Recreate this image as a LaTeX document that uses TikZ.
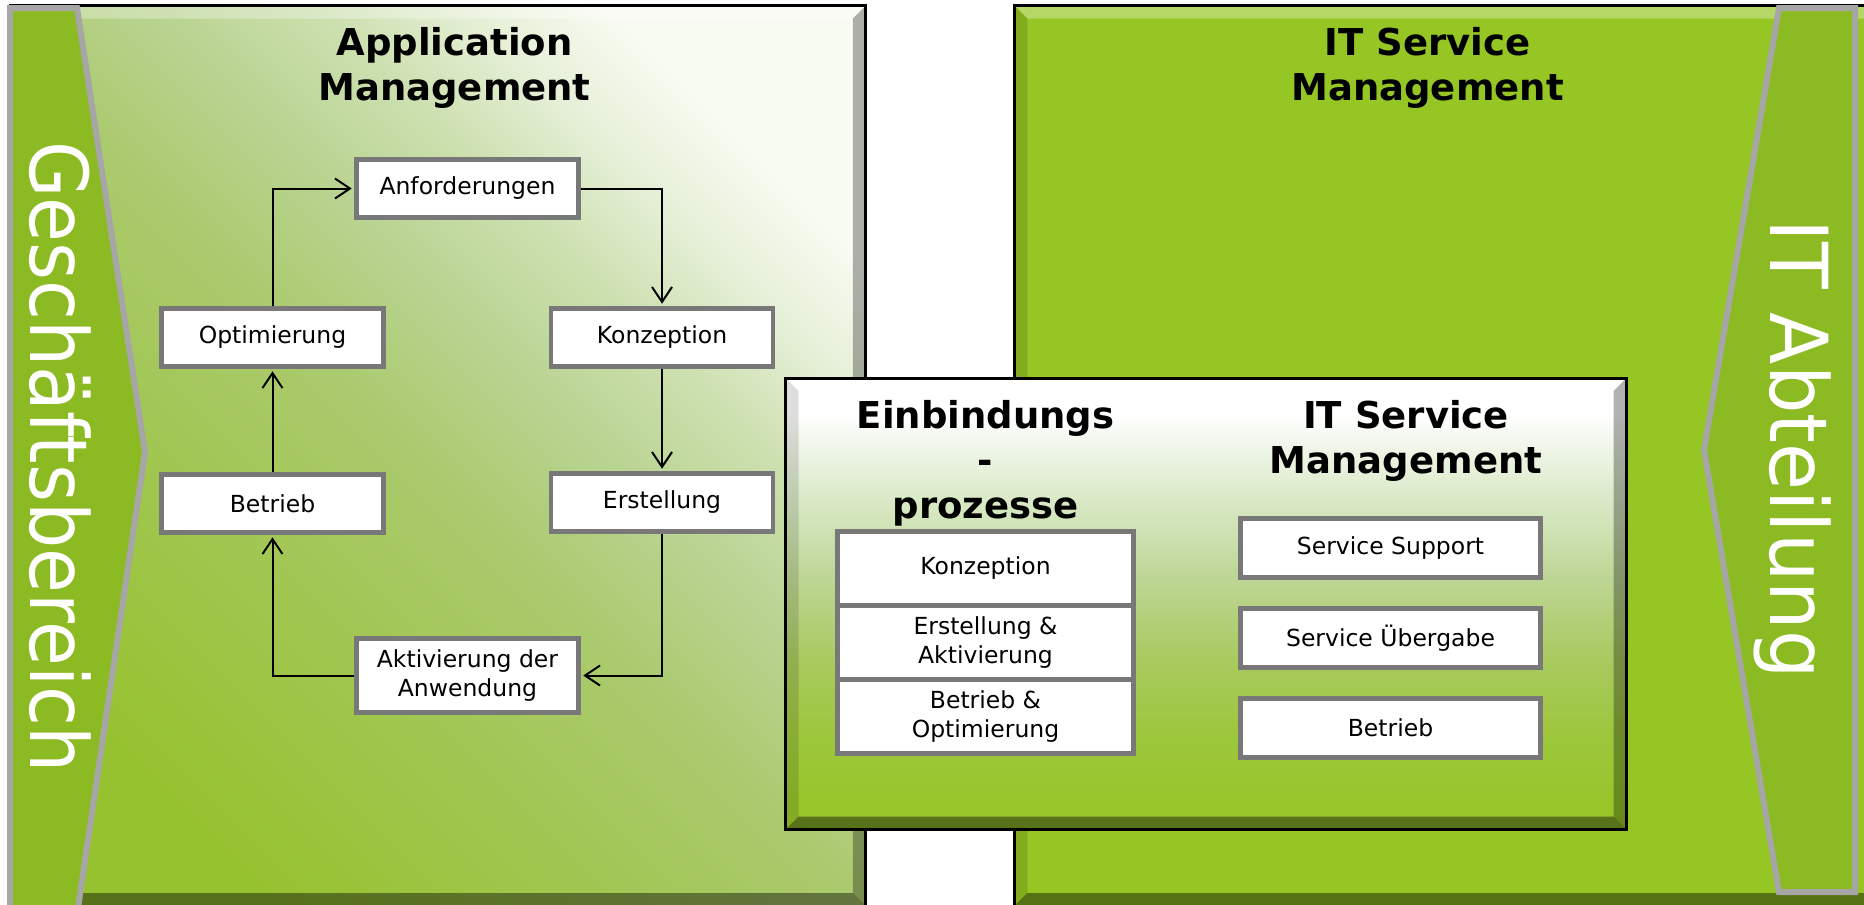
\documentclass[tikz,border=0pt]{standalone}
\usepackage{fontspec}
\setmainfont{DejaVu Sans}
\newfontfamily\bigfont[FakeStretch=0.91]{DejaVu Sans}
\newfontfamily\bigfontb[FakeStretch=0.955]{DejaVu Sans}
\usetikzlibrary{arrows.meta}

\definecolor{panelgreen}{HTML}{95C623}
\definecolor{chevgreen}{HTML}{8CBA22}
\definecolor{chevgray}{HTML}{A6A6A6}
\definecolor{boxgray}{HTML}{787878}
\definecolor{lp0}{HTML}{97C22F}
\definecolor{lp1}{HTML}{A1C650}
\definecolor{lp2}{HTML}{ABCA6E}
\definecolor{lp3}{HTML}{BAD493}
\definecolor{lp4}{HTML}{CDE0B0}
\definecolor{lp5}{HTML}{E6F0D8}
\definecolor{lp6}{HTML}{F8FBF2}
\definecolor{inA}{HTML}{97C52A}
\definecolor{inB}{HTML}{9EC73E}
\definecolor{inC}{HTML}{A9CA60}
\definecolor{inD}{HTML}{BED695}
\definecolor{inE}{HTML}{D8E8C4}
\definecolor{inF}{HTML}{EEF5E6}

\pgfdeclareverticalshading{innershade}{100bp}{color(0bp)=(inA); color(28bp)=(inA); color(36bp)=(inB); color(44bp)=(inC); color(53bp)=(inD); color(61bp)=(inE); color(67bp)=(inF); color(71bp)=(white); color(100bp)=(white)}
\pgfdeclareverticalshading{lpshade}{100bp}{color(0bp)=(lp0); color(25bp)=(lp0); color(38bp)=(lp1); color(49bp)=(lp2); color(57bp)=(lp3); color(63.5bp)=(lp4); color(69.5bp)=(lp5); color(75bp)=(lp6); color(100bp)=(lp6)}

% bevel: x1 y1 x2 y2 b   (pixel coordinates, y downwards)
\newcommand\mybevel[5]{%
  \fill[white,opacity=.3] (#1,#2) -- (#3,#2) -- (#3-#5,#2+#5) -- (#1+#5,#2+#5) -- cycle;
  \fill[black,opacity=.13] (#1,#2) -- (#1+#5,#2+#5) -- (#1+#5,#4-#5) -- (#1,#4) -- cycle;
  \fill[black,opacity=.3] (#3,#2) -- (#3-#5,#2+#5) -- (#3-#5,#4-#5) -- (#3,#4) -- cycle;
  \fill[black,opacity=.42] (#1,#4) -- (#1+#5,#4-#5) -- (#3-#5,#4-#5) -- (#3,#4) -- cycle;
}

\tikzset{
  procbox/.style={draw=boxgray, line width=4.5pt, fill=white, minimum width=222pt,
    minimum height=58pt, inner sep=0pt, align=center, font=\fontsize{23.5}{29}\selectfont},
  flow/.style={draw=black, line width=2pt, shorten >=2.5pt,
    -{Straight Barb[length=15pt,width=20pt,line width=2pt]}},
  headtext/.style={font=\fontsize{37}{45}\selectfont\bfseries, align=center, inner sep=0pt},
  biglabel/.style={text=white, rotate=-90, anchor=base, inner sep=0pt},
  chevron/.style={fill=chevgreen, draw=chevgray, line width=6pt},
}

\begin{document}
\begin{tikzpicture}[x=1pt,y=-1pt]
\useasboundingbox (0,0) rectangle (1864,905);

% left panel
\shade[shading=lpshade, shading angle=-45] (10,5.5) rectangle (865.8,906);
\mybevel{10}{5.5}{865.8}{906}{13}
\draw[black, line width=3pt] (10,915) -- (10,5.5) -- (865.8,5.5) -- (865.8,915);

% right panel
\fill[panelgreen] (1014.3,5.5) rectangle (1880,906);
\mybevel{1014.3}{5.5}{1880}{906}{13}
\draw[black, line width=3pt] (1014.3,915) -- (1014.3,5.5) -- (1880,5.5);

% chevrons
\filldraw[chevron] (10,8) -- (77,8) -- (145,452) -- (77,915) -- (10,915) -- cycle;
\filldraw[chevron] (1779,8) -- (1855,8) -- (1855,892) -- (1779,892) -- (1704,450) -- cycle;

\node[biglabel, font=\bigfont\fontsize{80}{90}\selectfont] (gb) at (30,457) {Geschäftsbereich};
\node[biglabel, font=\bigfontb\fontsize{80}{90}\selectfont] (ita) at (1770,449) {IT Abteilung};

% titles
\node[headtext] (amtitle) at (454.5,68) {Application\\Management};
\node[headtext] (itsmtitle) at (1427.5,68) {IT Service\\Management};

% inner box
\shade[shading=innershade] (785.5,378) rectangle (1626.5,829.5);
\mybevel{785.5}{378}{1626.5}{829.5}{13}
\draw[black, line width=3pt] (785.5,378) rectangle (1626.5,829.5);

\node[headtext] (ebtitle) at (985.5,463) {Einbindungs\\-\\prozesse};
\node[headtext] (itsm2title) at (1406,441) {IT Service\\Management};

% application management cycle
\node[procbox] (anf) at (467.5,188.5) {Anforderungen};
\node[procbox] (opt) at (272.5,337.5) {Optimierung};
\node[procbox] (konz) at (662,337.5) {Konzeption};
\node[procbox] (betr) at (272.5,503.5) {Betrieb};
\node[procbox] (erst) at (662,502.5) {Erstellung};
\node[procbox, minimum height=74pt] (akt) at (467.5,675.5) {Aktivierung der\\Anwendung};

\draw[flow] (opt.north) |- (anf.west);
\draw[flow] (anf.east) -| (konz.north);
\draw[flow] (konz.south) -- (erst.north);
\draw[flow] (erst.south) |- (akt.east);
\draw[flow] (akt.west) -| (betr.south);
\draw[flow] (betr.north) -- (opt.south);

% Einbindungsprozesse
\node[procbox, minimum width=296pt, minimum height=74pt] (ek) at (985.5,568.5) {Konzeption};
\node[procbox, minimum width=296pt, minimum height=74pt] (ee) at (985.5,642.5) {Erstellung \&\\Aktivierung};
\node[procbox, minimum width=296pt, minimum height=74pt] (eb) at (985.5,716.5) {Betrieb \&\\Optimierung};

% IT Service Management
\node[procbox, minimum width=300pt, minimum height=59pt] (ss) at (1390.5,548) {Service Support};
\node[procbox, minimum width=300pt, minimum height=59pt] (su) at (1390.5,638) {Service Übergabe};
\node[procbox, minimum width=300pt, minimum height=59pt] (sb) at (1390.5,728) {Betrieb};
\end{tikzpicture}
\end{document}
